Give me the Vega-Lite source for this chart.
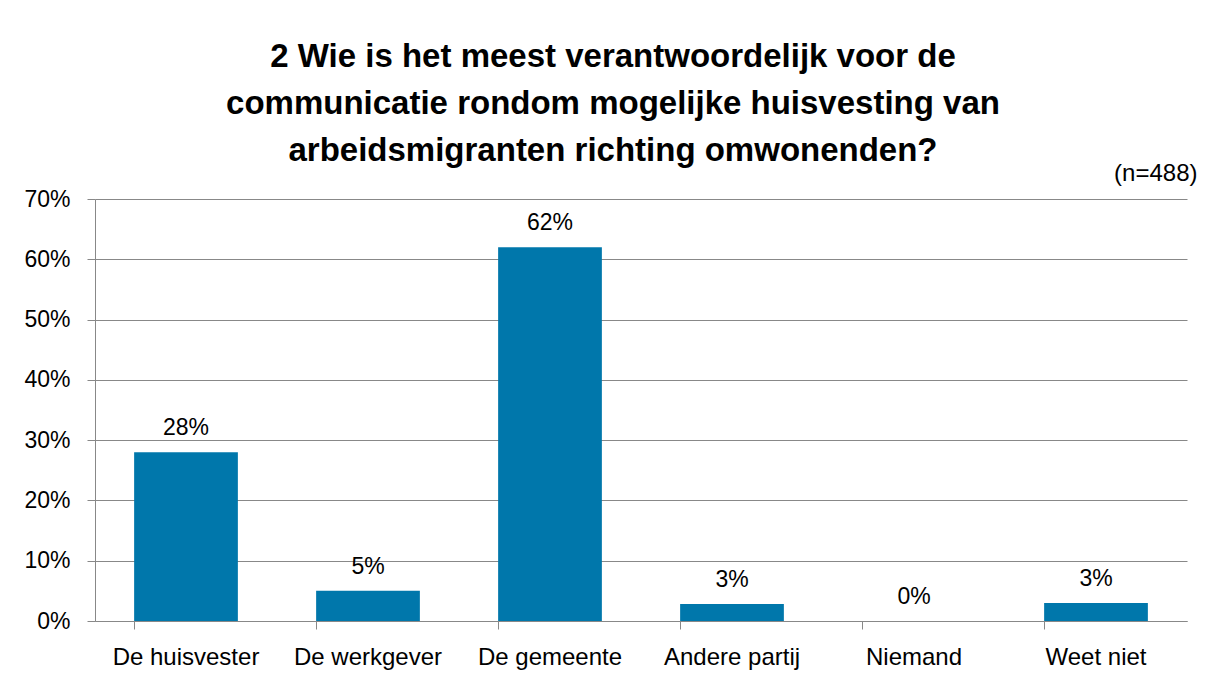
{
  "$schema": "https://vega.github.io/schema/vega-lite/v6.json",
  "autosize": {"type": "none"},
  "width": 1092,
  "height": 422,
  "padding": {"left": 95, "top": 199, "right": 26, "bottom": 63},
  "background": "white",
  "title": {
    "text": ["2 Wie is het meest verantwoordelijk voor de", "communicatie rondom mogelijke huisvesting van", "arbeidsmigranten richting omwonenden?"],
    "font": "Liberation Sans",
    "fontSize": 33,
    "fontWeight": "bold",
    "color": "black",
    "lineHeight": 47,
    "anchor": "middle",
    "dx": -28,
    "offset": -7
  },
  "data": {
    "values": [
      {"cat": "De huisvester", "pct": 0.28},
      {"cat": "De werkgever", "pct": 0.05},
      {"cat": "De gemeente", "pct": 0.62},
      {"cat": "Andere partij", "pct": 0.028},
      {"cat": "Niemand", "pct": 0.0},
      {"cat": "Weet niet", "pct": 0.03}
    ]
  },
  "encoding": {
    "x": {
      "field": "cat", "type": "nominal", "sort": null,
      "scale": {"paddingInner": 0.43, "paddingOuter": 0.215},
      "axis": {
        "title": null, "labelAngle": 0, "bandPosition": 0,
        "labelFont": "Liberation Sans", "labelFontSize": 24, "labelColor": "black",
        "labelPadding": 16, "tickSize": 8, "tickColor": "#888888", "domainColor": "#888888",
        "grid": false
      }
    },
    "y": {
      "field": "pct", "type": "quantitative",
      "scale": {"domain": [0, 0.7]},
      "axis": {
        "title": "(n=488)", "titleAngle": 0, "titleX": 1102, "titleY": -14,
        "titleAlign": "right", "titleBaseline": "bottom",
        "titleFont": "Liberation Sans", "titleFontSize": 24, "titleFontWeight": "normal", "titleColor": "black",
        "format": ".0%", "values": [0, 0.1, 0.2, 0.3, 0.4, 0.5, 0.6, 0.7],
        "labelFont": "Liberation Sans", "labelFontSize": 23, "labelColor": "black",
        "labelPadding": 17, "tickSize": 8, "tickColor": "#888888", "domainColor": "#888888",
        "gridColor": "#888888", "gridWidth": 1
      }
    }
  },
  "layer": [
    {"mark": {"type": "bar", "color": "#0077AB"}},
    {
      "mark": {"type": "text", "baseline": "bottom", "dy": -12, "font": "Liberation Sans", "fontSize": 23, "color": "black"},
      "encoding": {"text": {"field": "pct", "type": "quantitative", "format": ".0%"}}
    }
  ],
  "config": {"view": {"stroke": null}}
}
